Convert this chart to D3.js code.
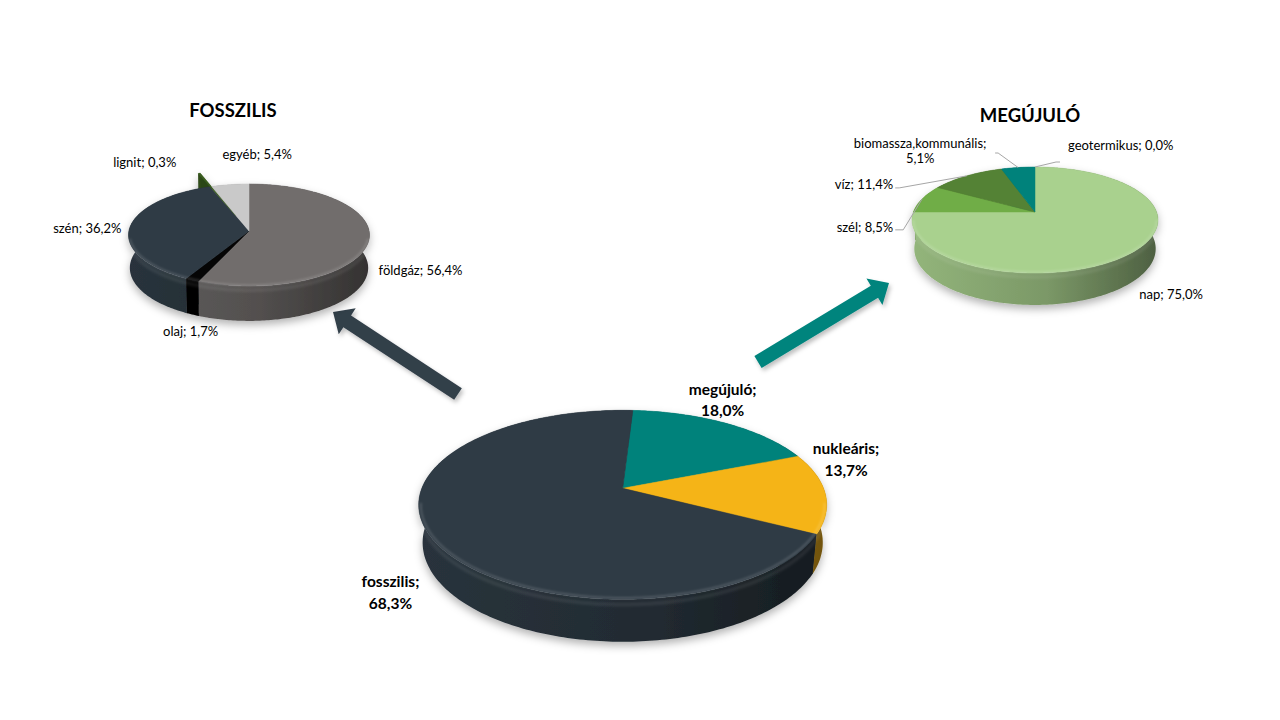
<!DOCTYPE html>
<html>
<head>
  <meta charset="utf-8">
  <title>Villamosenergia-termelés megoszlása</title>
  <script src="https://d3js.org/d3.v7.min.js"></script>
  <style>
    body { margin: 0; background: #fff; }
    svg { font-family: Lato, "Open Sans", sans-serif; }
  </style>
</head>
<body>
<div id="chart"></div>
<script>

// Data: main split, then the two breakdowns (clockwise from 12 o'clock)
const mainNames = ["megújuló", "nukleáris", "fosszilis"];
const mainValues = [18.0, 13.7, 68.3];

const fossilNames = ["földgáz", "olaj", "szén", "lignit", "egyéb"];
const fossilValues = [56.4, 1.7, 36.2, 0.3, 5.4];

const renewNames = ["nap", "szél", "víz", "biomassza,kommunális", "geotermikus"];
const renewValues = [75.0, 8.5, 11.4, 5.1, 0.0];

// Colours
const mainColors = ["#00827b", "#f5b417", "#2f3b45"];
const fossilColors = ["#716d6c", "#050505", "#2f3b45", "#3b5e1f", "#c9c9c9"];
const renewColors = ["#a9d18e", "#70ad47", "#548235", "#00827b", "#2f3b45"];

// Hungarian number format: 56,4%
const fmt = d3.formatLocale({decimal: ",", thousands: " ", grouping: [3], currency: ["", ""]}).format(".1f");

const width = 1280, height = 720;
const svg = d3.select("#chart").append("svg")
  .attr("width", width)
  .attr("height", height);

const defs = svg.append("defs");
defs.append("filter").attr("id", "pieShadow")
  .attr("x", "-20%").attr("y", "-20%").attr("width", "140%").attr("height", "150%")
  .append("feDropShadow")
  .attr("dx", 0).attr("dy", 4).attr("stdDeviation", 4)
  .attr("flood-color", "#000").attr("flood-opacity", 0.3);
defs.append("filter").attr("id", "arrowShadow")
  .attr("x", "-20%").attr("y", "-20%").attr("width", "140%").attr("height", "140%")
  .append("feDropShadow")
  .attr("dx", 2).attr("dy", 3).attr("stdDeviation", 2)
  .attr("flood-color", "#000").attr("flood-opacity", 0.25);
defs.append("filter").attr("id", "soft")
  .append("feGaussianBlur").attr("stdDeviation", 1);

// Perspective projection of a flat disc (radius 1) seen from above-front.
// back / front = pixel distance from the centre to the far / near rim.
function projector(p) {
  const r = p.front / p.back, g = (r - 1) / (r + 1);
  const k = p.rx * Math.sqrt(1 - g * g);
  const sinE = p.back * (1 + g) / k, cosE = Math.sqrt(1 - sinE * sinE);
  const D = cosE / g;
  const proj = (X, Z, Y) => {
    const yp = Z * sinE + Y * cosE, w = Z * cosE - Y * sinE, s = D / (D + w);
    return [p.cx + k * X * s, p.cy - k * yp * s];
  };
  proj.t = p.depth * (1 - g) / (k * cosE);
  return proj;
}

const line = d3.line().curve(d3.curveLinearClosed);
const openLine = d3.line();

function angles(a0, a1) {
  const n = Math.max(2, Math.ceil((a1 - a0) / (Math.PI / 180)));
  return d3.range(n + 1).map(i => a0 + (a1 - a0) * i / n);
}

function drawPie(p, names, values, colors, labels) {
  const proj = projector(p);
  const t = proj.t;
  const rows = names.map((n, i) => ({name: n, value: values[i], color: colors[i], lab: labels[i]}));
  const arcs = d3.pie().sort(null).value(d => d.value)
    .startAngle(p.start).endAngle(p.start + 2 * Math.PI)(rows)
    .filter(a => a.data.value > 0);

  arcs.forEach(a => {
    const mid = (a.startAngle + a.endAngle) / 2;
    const ex = (p.explode && p.explode[a.data.name]) || 0;
    a.mid = mid;
    a.ox = Math.sin(mid) * ex;
    a.oz = Math.cos(mid) * ex;
    a.pt = (ang, R, Y) => proj(a.ox + R * Math.sin(ang), a.oz + R * Math.cos(ang), Y);
  });

  const g = svg.append("g").attr("class", "pie-" + p.id);

  // side gradients: lighter on the left, dark on the right
  arcs.forEach((a, i) => {
    const c = d3.color(a.data.color);
    const grad = defs.append("linearGradient")
      .attr("id", `side-${p.id}-${i}`)
      .attr("gradientUnits", "userSpaceOnUse")
      .attr("x1", p.cx - p.rx).attr("x2", p.cx + p.rx)
      .attr("y1", 0).attr("y2", 0);
    grad.append("stop").attr("offset", 0).attr("stop-color", c.darker(0.4));
    grad.append("stop").attr("offset", 0.55).attr("stop-color", c.darker(0.9));
    grad.append("stop").attr("offset", 1).attr("stop-color", c.darker(2.2));
    a.grad = `url(#side-${p.id}-${i})`;
  });

  const walls = g.append("g").attr("filter", "url(#pieShadow)");

  // radial cut faces (only show when a slice is pulled out)
  arcs.forEach(a => {
    [a.startAngle, a.endAngle].forEach(ang => {
      walls.append("path")
        .attr("d", line([a.pt(0, 0, 0), a.pt(ang, 1, 0), a.pt(ang, 1, -t), a.pt(0, 0, -t)]))
        .attr("fill", d3.color(a.data.color).darker(0.8));
    });
  });

  // outer walls, back to front
  arcs.slice().sort((a, b) => Math.cos(b.mid) - Math.cos(a.mid)).forEach(a => {
    const ang = angles(a.startAngle, a.endAngle);
    const pts = ang.map(v => a.pt(v, 1, 0)).concat(ang.slice().reverse().map(v => a.pt(v, 1, -t)));
    walls.append("path")
      .attr("d", line(pts))
      .attr("fill", a.grad);
  });

  // soft rounded band just under the rim
  g.append("path")
    .attr("d", openLine(angles(Math.PI * 0.52, Math.PI * 1.48).map(v => proj(Math.sin(v), Math.cos(v), -t * 0.12))))
    .attr("fill", "none")
    .attr("stroke", "#fff")
    .attr("stroke-opacity", 0.07)
    .attr("stroke-width", 4)
    .attr("filter", "url(#soft)");

  // top faces
  arcs.forEach(a => {
    const pts = [a.pt(0, 0, 0)].concat(angles(a.startAngle, a.endAngle).map(v => a.pt(v, 1, 0)));
    g.append("path")
      .attr("d", line(pts))
      .attr("fill", a.data.color)
      .attr("stroke", a.data.color)
      .attr("stroke-width", 0.5);
  });

  // bevel highlight along the near rim
  g.append("path")
    .attr("d", openLine(angles(Math.PI * 0.55, Math.PI * 1.45).map(v => proj(0.99 * Math.sin(v), 0.99 * Math.cos(v), 0))))
    .attr("fill", "none")
    .attr("stroke", "#fff")
    .attr("stroke-opacity", 0.16)
    .attr("stroke-width", 2)
    .attr("filter", "url(#soft)");

  // labels
  const lg = svg.append("g").attr("class", "labels-" + p.id);
  arcs.forEach(a => {
    const L = a.data.lab;
    if (!L) return;
    const anchor = proj(Math.sin(a.mid), Math.cos(a.mid), 0);
    const val = fmt(a.data.value) + "%";
    const lines = L.split ? [a.data.name + ";", val] : [a.data.name + "; " + val];
    const txt = lg.append("text")
      .attr("x", anchor[0] + L.dx)
      .attr("y", anchor[1] + L.dy)
      .attr("text-anchor", L.anchor)
      .attr("font-size", p.fontSize)
      .attr("font-weight", p.fontWeight)
      .attr("fill", "#000");
    lines.forEach((s, i) => {
      txt.append("tspan")
        .attr("x", anchor[0] + L.dx)
        .attr("dy", i === 0 ? 0 : L.lh)
        .text(s);
    });
    if (L.leader) {
      const s0 = [anchor[0] + L.leader[0], anchor[1] + L.leader[1]];
      const s1 = [s0[0] + L.leader[2], s0[1]];
      lg.append("path")
        .attr("d", openLine([s0, s1, anchor]))
        .attr("fill", "none")
        .attr("stroke", "#a6a6a6")
        .attr("stroke-width", 1);
    }
  });
}

// Arrows from the main pie to the breakdown pies
function arrowPts(tail, tip, hw, headW, headL) {
  const dx = tip[0] - tail[0], dy = tip[1] - tail[1], L = Math.hypot(dx, dy);
  const ux = dx / L, uy = dy / L, px = -uy, py = ux;
  const b = [tip[0] - ux * headL, tip[1] - uy * headL];
  return [
    [tail[0] + px * hw, tail[1] + py * hw], [b[0] + px * hw, b[1] + py * hw],
    [b[0] + px * headW, b[1] + py * headW], tip,
    [b[0] - px * headW, b[1] - py * headW], [b[0] - px * hw, b[1] - py * hw],
    [tail[0] - px * hw, tail[1] - py * hw]
  ];
}
const arrows = [
  {tail: [458, 394], tip: [333, 312], color: "#333f4a"},
  {tail: [758, 362], tip: [889, 283], color: "#00847d"}
];
svg.append("g").selectAll("path").data(arrows).join("path")
  .attr("d", d => line(arrowPts(d.tail, d.tip, 7, 15.5, 17)))
  .attr("fill", d => d.color)
  .attr("filter", "url(#arrowShadow)");

const deg = Math.PI / 180;

drawPie(
  {id: "main", cx: 622.7, cy: 488.3, rx: 204, back: 78, front: 111, depth: 46, start: 3.4 * deg,
   fontSize: 15.5, fontWeight: 700},
  mainNames, mainValues, mainColors,
  [
    {dx: -3, dy: -28, anchor: "middle", split: true, lh: 21},
    {dx: 21, dy: -39, anchor: "middle", split: true, lh: 22},
    {dx: -41, dy: 49, anchor: "middle", split: true, lh: 22}
  ]
);

drawPie(
  {id: "fossil", cx: 249, cy: 231, rx: 120.5, back: 47, front: 55, depth: 36, start: 0,
   explode: {"lignit": 0.33}, fontSize: 13, fontWeight: 400},
  fossilNames, fossilValues, fossilColors,
  [
    {dx: 10, dy: 34, anchor: "start"},
    {dx: -1.5, dy: 56, anchor: "middle"},
    {dx: -8.5, dy: 6, anchor: "end"},
    {dx: -66, dy: -20, anchor: "middle"},
    {dx: 27, dy: -26, anchor: "middle"}
  ]
);

drawPie(
  {id: "renew", cx: 1035, cy: 212, rx: 123, back: 45, front: 61, depth: 34, start: 0,
   fontSize: 13, fontWeight: 400},
  renewNames, renewValues, renewColors,
  [
    {dx: 8, dy: 46.5, anchor: "start"},
    {dx: -29, dy: 33.5, anchor: "end", leader: [-27, 31, 8]},
    {dx: -73.5, dy: 13.5, anchor: "end", leader: [-71.5, 12, 4]},
    {dx: -98, dy: -20, anchor: "middle", split: true, lh: 15, leader: [-23, -14.5, 3]},
    null
  ]
);

// geotermikus has a 0,0% share: no slice, but Excel still labels it at 12 o'clock
(function() {
  const proj = projector({cx: 1035, cy: 212, rx: 123, back: 45, front: 61, depth: 34});
  const anchor = proj(0, 1, 0);
  const i = renewNames.indexOf("geotermikus");
  const g = svg.append("g");
  g.append("path")
    .attr("d", openLine([[anchor[0] + 25, anchor[1] - 5], [anchor[0] + 21, anchor[1] - 5], anchor]))
    .attr("fill", "none").attr("stroke", "#a6a6a6").attr("stroke-width", 1);
  g.append("text")
    .attr("x", anchor[0] + 33).attr("y", anchor[1] - 17.5)
    .attr("font-size", 13).attr("fill", "#000")
    .text(renewNames[i] + "; " + fmt(renewValues[i]) + "%");
})();

// Titles
svg.append("text")
  .attr("x", 233).attr("y", 117)
  .attr("text-anchor", "middle")
  .attr("font-size", 18.5).attr("font-weight", 700)
  .text("FOSSZILIS");
svg.append("text")
  .attr("x", 1030).attr("y", 122)
  .attr("text-anchor", "middle")
  .attr("font-size", 18.5).attr("font-weight", 700)
  .text("MEGÚJULÓ");

</script>
</body>
</html>
